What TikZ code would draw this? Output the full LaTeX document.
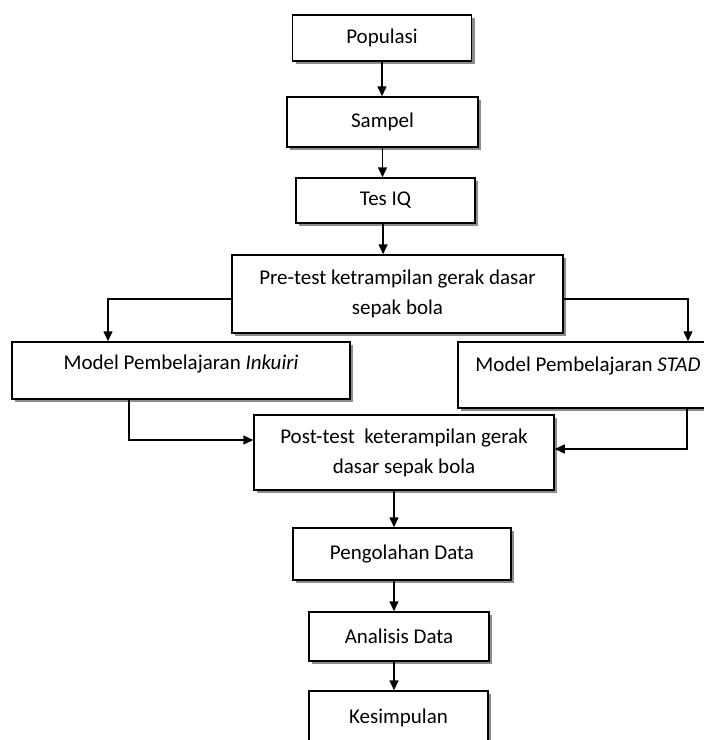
\documentclass[tikz,border=0pt]{standalone}
\usepackage{fontspec}
\setmainfont{Carlito}
\usetikzlibrary{arrows.meta,shadows}
\tikzset{
  kotak/.style={draw, line width=0.75pt, fill=white, align=center,
    font=\fontsize{10.5}{15}\selectfont, inner sep=0pt,
    drop shadow={shadow xshift=1.7pt, shadow yshift=-1.7pt, fill=black!45, opacity=1}},
  panah/.style={->, line width=0.75pt}
}
\begin{document}
\begin{tikzpicture}[x=0.5pt, y=-0.5pt, >={Triangle[length=5pt,width=4.5pt]}]
  \useasboundingbox (0,0) rectangle (704,740);
  % alur atas
  \node[kotak, minimum width=89.5pt, minimum height=23pt] (pop) at (382,38) {Populasi};
  \node[kotak, minimum width=95.5pt, minimum height=25pt] (sampel) at (382.5,122) {Sampel};
  \node[kotak, minimum width=89.5pt, minimum height=22.5pt] (tesiq) at (385.5,200.5) {Tes IQ};
  \node[kotak, minimum width=165.5pt, minimum height=39pt] (pre) at (397.5,294)
    {Pre-test ketrampilan gerak dasar\\sepak bola};
  % dua model
  \node[kotak, minimum width=169pt, minimum height=28.5pt, text height=6.8pt, text depth=7.5pt]
    (inkuiri) at (181,370.5) {Model Pembelajaran \textit{Inkuiri}};
  \node[kotak, minimum width=130pt, minimum height=33pt, text height=6.8pt, text depth=10.5pt]
    (stad) at (588,375) {Model Pembelajaran \textit{STAD}};
  \node[kotak, minimum width=150pt, minimum height=37.5pt] (post) at (404,452.5)
    {Post-test~ keterampilan gerak\\dasar sepak bola};
  % alur bawah
  \node[kotak, minimum width=109pt, minimum height=26pt] (olah) at (402,554) {Pengolahan Data};
  \node[kotak, minimum width=90pt, minimum height=24.5pt] (analisis) at (399,636.5) {Analisis Data};
  \node[kotak, minimum width=89.5pt, minimum height=27pt] (simpul) at (398.5,718) {Kesimpulan};

  \draw[panah] (pop.south) -- (pop.south |- sampel.north);
  \draw[panah] (sampel.south) -- (sampel.south |- tesiq.north);
  \draw[panah] ([xshift=-1.2pt]tesiq.south) -- ([xshift=-1.2pt]tesiq.south |- pre.north);
  \draw[panah] ([yshift=-2.5pt]pre.west) -| ([xshift=-36.5pt]inkuiri.north);
  \draw[panah] ([yshift=-2.5pt]pre.east) -| ([xshift=50pt]stad.north);
  \draw[panah] ([xshift=-26pt]inkuiri.south) |- ([yshift=6.25pt]post.west);
  \draw[panah] ([xshift=49.5pt]stad.south) |- ([yshift=1.75pt]post.east);
  \draw[panah] ([xshift=-5pt]post.south) -- ([xshift=-5pt]post.south |- olah.north);
  \draw[panah] ([xshift=-4pt]olah.south) -- ([xshift=-4pt]olah.south |- analisis.north);
  \draw[panah] ([xshift=-2.5pt]analisis.south) -- ([xshift=-2.5pt]analisis.south |- simpul.north);
\end{tikzpicture}
\end{document}
